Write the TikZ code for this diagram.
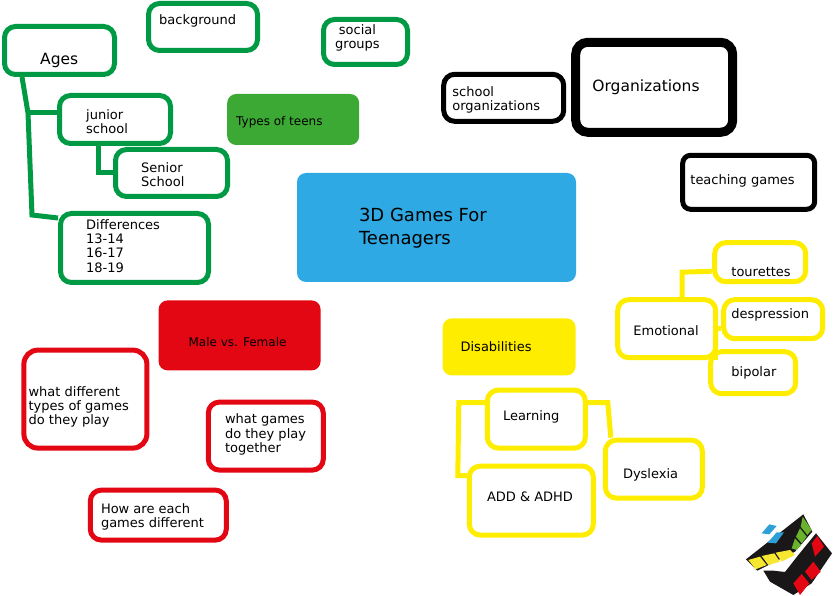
\documentclass[tikz,border=0pt]{standalone}
\usepackage{fontspec}
\setsansfont{DejaVu Sans}
\usepackage{xcolor}
\usetikzlibrary{positioning}
\definecolor{palGreen}{HTML}{009A44}
\definecolor{palLeaf}{HTML}{3DA935}
\definecolor{palBlue}{HTML}{2EA9E3}
\definecolor{palRed}{HTML}{E30613}
\definecolor{palYellow}{HTML}{FFED00}
\definecolor{palCubeGreen}{HTML}{6AB42D}
\definecolor{palCubeYellow}{HTML}{F7E731}
\definecolor{palCubeBlue}{HTML}{2F9FD8}
\definecolor{palCubeBlack}{HTML}{1A1718}

\begin{document}
\begin{tikzpicture}[
  x=1pt, y=-1pt,
  font=\sffamily\fontsize{13}{14.3}\selectfont,
  box/.style={draw, rounded corners=11pt, line width=5pt, inner sep=0pt},
  greenbox/.style={box, draw=palGreen},
  blackbox/.style={box, draw=black},
  redbox/.style={box, draw=palRed},
  yellowbox/.style={box, draw=palYellow},
  headbox/.style={rounded corners=9pt, inner sep=0pt},
  lbl/.style={anchor=west, align=left, inner sep=0pt, text=black},
  greenline/.style={draw=palGreen, line width=5pt},
  yellowline/.style={draw=palYellow, line width=5pt},
]
\useasboundingbox (0,0) rectangle (833,596);

% centre
\node[headbox, fill=palBlue, minimum width=279pt, minimum height=109pt] (mainbox) at (436.5,227.5) {};
\node[lbl, font=\sffamily\fontsize{18}{22.5}\selectfont] (mainlbl) at ([xshift=62pt,yshift=-0.5pt]mainbox.west) {3D Games For\\Teenagers};

% green branch
\node[greenbox, minimum width=110pt, minimum height=48pt] (ages) at (59.5,50.5) {};
\node[lbl, font=\sffamily\fontsize{15.5}{18}\selectfont] (ageslbl) at ([xshift=38pt,yshift=-9.5pt]ages.west) {Ages};
\node[greenbox, minimum width=109pt, minimum height=47pt, above right=-29pt and 29pt of ages] (background) {};
\node[lbl] (backgroundlbl) at ([xshift=13pt,yshift=6pt]background.west) {background};
\node[greenbox, minimum width=84pt, minimum height=45pt, below right=-36pt and 61pt of background] (social) {};
\node[lbl, align=center] (sociallbl) at ([xshift=14pt,yshift=4pt]social.west) {social\\groups};
\node[greenbox, minimum width=111pt, minimum height=48pt, below right=16pt and -60pt of ages] (junior) {};
\node[lbl] (juniorlbl) at ([xshift=29pt,yshift=-2.5pt]junior.west) {junior\\school};
\node[greenbox, minimum width=112pt, minimum height=47pt, below right=1pt and -60pt of junior] (senior) {};
\node[lbl] (seniorlbl) at ([xshift=28pt,yshift=-2pt]senior.west) {Senior\\School};
\node[greenbox, minimum width=148pt, minimum height=69pt, below right=65pt and -115pt of junior] (diff) {};
\node[lbl] (difflbl) at ([xshift=28pt,yshift=2pt]diff.west) {Differences\\13-14\\16-17\\18-19};
\node[headbox, fill=palLeaf, minimum width=132pt, minimum height=51pt, right=54pt of junior] (teens) {};
\node[lbl, font=\sffamily\fontsize{12}{14}\selectfont] (teenslbl) at ([xshift=9pt,yshift=-2.5pt]teens.west) {Types of teens};

\draw[greenline] ([xshift=20pt]ages.south west) -- ++(6,36) coordinate (agesbend) -- ++(4,102) -- ([yshift=30pt]diff.west);
\draw[greenline] (agesbend) -- (agesbend -| junior.west);
\draw[greenline] ([xshift=41pt]junior.south west) |- (senior.west);

% black branch
\node[blackbox, line width=9pt, rounded corners=12pt, minimum width=157pt, minimum height=90pt, above right=36pt and -5pt of mainbox] (orgs) {};
\node[lbl, font=\sffamily\fontsize{15.5}{18}\selectfont] (orgslbl) at ([xshift=21pt]orgs.west) {Organizations};
\node[blackbox, minimum width=120pt, minimum height=47pt, below left=-65pt and 5pt of orgs] (schoolorgs) {};
\node[lbl] (schoolorgslbl) at ([xshift=11pt,yshift=-2pt]schoolorgs.west) {school\\organizations};
\node[blackbox, rounded corners=8pt, minimum width=132pt, minimum height=54pt, below right=16pt and -57pt of orgs] (teaching) {};
\node[lbl] (teachinglbl) at ([xshift=10pt,yshift=1.5pt]teaching.west) {teaching games};

% red branch
\node[headbox, fill=palRed, minimum width=162pt, minimum height=70pt, below left=18pt and -24pt of mainbox] (gender) {};
\node[lbl, font=\sffamily\fontsize{12}{14}\selectfont] (genderlbl) at ([xshift=30pt,yshift=-7pt]gender.west) {Male vs. Female};
\node[redbox, rounded corners=14pt, minimum width=123pt, minimum height=98pt, below left=-23pt and 9pt of gender] (difftypes) {};
\node[lbl] (difftypeslbl) at ([xshift=7pt,yshift=-8pt]difftypes.west) {what different\\types of games\\do they play};
\node[redbox, minimum width=115pt, minimum height=68pt, below right=29pt and -115pt of gender] (together) {};
\node[lbl] (togetherlbl) at ([xshift=19pt,yshift=1.5pt]together.west) {what games\\do they play\\together};
\node[redbox, minimum width=136pt, minimum height=50pt, below left=15pt and -23pt of together] (howdiff) {};
\node[lbl] (howdifflbl) at ([xshift=13pt,yshift=-1.5pt]howdiff.west) {How are each\\games different};

% yellow branch
\node[headbox, fill=palYellow, minimum width=133pt, minimum height=57pt, below left=36pt and -279pt of mainbox] (disab) {};
\node[lbl] (disablbl) at ([xshift=18pt]disab.west) {Disabilities};
\node[yellowbox, minimum width=98pt, minimum height=58pt, below right=15pt and 39pt of mainbox] (emotional) {};
\node[lbl] (emotionallbl) at ([xshift=18pt,yshift=-1.5pt]emotional.west) {Emotional};
\node[yellowbox, minimum width=91pt, minimum height=39pt, above right=13pt and -6pt of emotional] (tourettes) {};
\node[lbl] (touretteslbl) at ([xshift=19pt,yshift=-10pt]tourettes.west) {tourettes};
\node[yellowbox, minimum width=99pt, minimum height=39pt, below right=-63pt and 3pt of emotional] (despression) {};
\node[lbl] (despressionlbl) at ([xshift=10pt,yshift=4pt]despression.west) {despression};
\node[yellowbox, minimum width=85pt, minimum height=42pt, below right=-11pt and -10pt of emotional] (bipolar) {};
\node[lbl] (bipolarlbl) at ([xshift=23pt]bipolar.west) {bipolar};
\node[yellowbox, minimum width=98pt, minimum height=58pt, below right=12pt and -91pt of disab] (learning) {};
\node[lbl] (learninglbl) at ([xshift=18pt,yshift=2.5pt]learning.west) {Learning};
\node[yellowbox, minimum width=97pt, minimum height=58pt, below right=-13pt and 15pt of learning] (dyslexia) {};
\node[lbl] (dyslexialbl) at ([xshift=20pt,yshift=-5.5pt]dyslexia.west) {Dyslexia};
\node[yellowbox, minimum width=124pt, minimum height=69pt, below left=13pt and -111pt of learning] (addbox) {};
\node[lbl] (addlbl) at ([xshift=20pt,yshift=4pt]addbox.west) {ADD \& ADHD};

\draw[yellowline] ([xshift=67pt]emotional.north west) -- ++(0,-25) -- ([yshift=-9pt]tourettes.west);
\draw[yellowline] (emotional.east) -- (emotional.east -| despression.west);
\draw[yellowline] ([xshift=-2.5pt]emotional.east) -- ([xshift=-2.5pt]emotional.south east);
\draw[yellowline] ([yshift=16.5pt]learning.west) -- ++(-26,0) -- ++(-1,73) -- ([yshift=25pt]addbox.west);
\draw[yellowline] ([yshift=16.5pt]learning.east) -- ++(20,0) -- ([xshift=8pt]dyslexia.north west);

% cube
\begin{scope}[shift={(730,500)}, x=0.3333pt, y=-0.3333pt]
\fill[palCubeBlack] (48,178) -- (220,43) -- (247,95) -- (195,155) -- (82,212) -- cycle;
\fill[palCubeBlack] (100,212) -- (130,212) -- (165,216) -- (205,165) -- (258,100) -- (306,160) -- (245,250) -- (190,285) -- (120,245) -- cycle;
\fill[palCubeBlue] (95,100) -- (118,73) -- (140,78) -- (118,103) -- cycle;
\fill[palCubeBlue] (113,128) -- (140,97) -- (162,97) -- (138,130) -- cycle;
\fill[palCubeYellow] (55,180) -- (90,170) -- (110,195) -- (77,208) -- cycle;
\fill[palCubeYellow] (95,168) -- (133,160) -- (150,185) -- (115,195) -- cycle;
\fill[palCubeYellow] (137,158) -- (180,150) -- (195,165) -- (155,185) -- cycle;
\fill[palCubeGreen] (218,50) -- (245,90) -- (232,105) -- (212,80) -- cycle;
\fill[palCubeGreen] (210,85) -- (230,110) -- (215,130) -- (198,110) -- cycle;
\fill[palCubeGreen] (195,115) -- (213,135) -- (200,150) -- (185,145) -- cycle;
\fill[palRed] (245,130) -- (262,108) -- (282,140) -- (255,170) -- cycle;
\fill[palRed] (225,215) -- (250,185) -- (272,215) -- (245,240) -- cycle;
\fill[palRed] (190,250) -- (215,222) -- (238,250) -- (210,285) -- cycle;
\end{scope}
\end{tikzpicture}
\end{document}
